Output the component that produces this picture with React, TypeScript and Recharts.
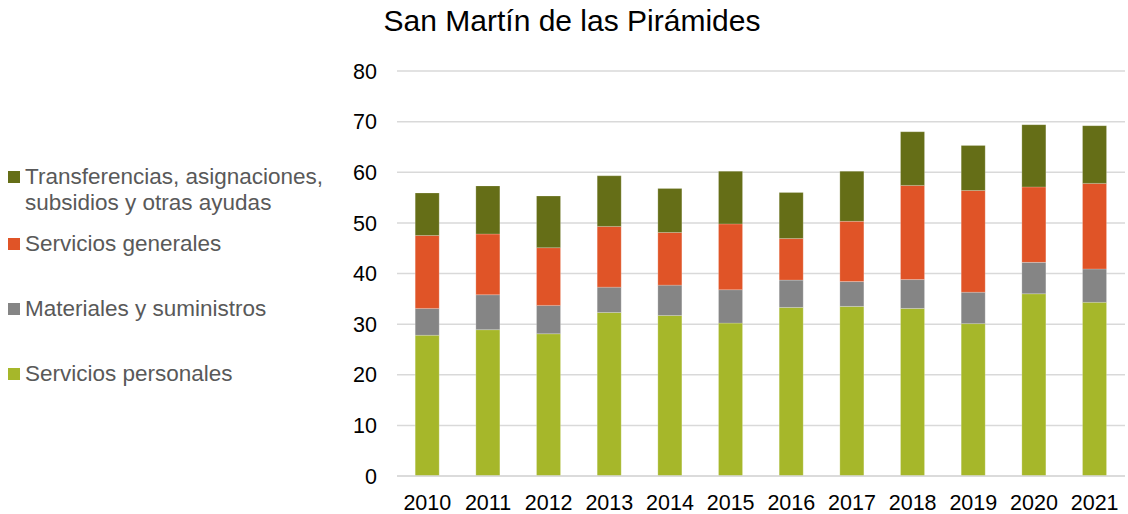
import { BarChart, Bar, XAxis, YAxis, CartesianGrid } from 'recharts';

const YEARS = ['2010', '2011', '2012', '2013', '2014', '2015', '2016', '2017', '2018', '2019', '2020', '2021'];
const PERSONALES = [27.8, 28.9, 28.1, 32.3, 31.7, 30.2, 33.3, 33.5, 33.1, 30.1, 36.0, 34.3];
const MATERIALES = [5.3, 6.9, 5.6, 5.0, 6.0, 6.6, 5.4, 4.9, 5.7, 6.2, 6.2, 6.6];
const GENERALES = [14.4, 12.0, 11.4, 12.0, 10.4, 13.0, 8.2, 11.9, 18.6, 20.1, 14.9, 16.9];
const TRANSFERENCIAS = [8.4, 9.5, 10.2, 10.0, 8.7, 10.4, 9.1, 9.9, 10.6, 8.9, 12.3, 11.4];
const Y_TICKS = [0, 10, 20, 30, 40, 50, 60, 70, 80];

const SERIES = [
  { key: 'personales', name: 'Servicios personales', color: '#A6B72A', values: PERSONALES },
  { key: 'materiales', name: 'Materiales y suministros', color: '#858585', values: MATERIALES },
  { key: 'generales', name: 'Servicios generales', color: '#E05427', values: GENERALES },
  { key: 'transferencias', name: 'Transferencias, asignaciones, subsidios y otras ayudas', color: '#656E17', values: TRANSFERENCIAS },
];

const data = YEARS.map((year, i) => {
  const row: Record<string, any> = { year };
  SERIES.forEach((s) => {
    row[s.key] = s.values[i];
  });
  return row;
});

// legend entries, top to bottom, with their vertical spot
const LEGEND_TOPS = [164, 231, 296, 361];
const legendItems = [...SERIES].reverse();

const FONT = '"Liberation Sans", Arial, sans-serif';

export default function App() {
  return (
    <div style={{ position: 'absolute', left: 0, top: 0, width: 1128, height: 514, background: '#fff', fontFamily: FONT }}>
      <div style={{ position: 'absolute', left: 0, width: 1144, top: 4, textAlign: 'center', fontSize: 30, color: '#000' }}>
        San Martín de las Pirámides
      </div>

      {legendItems.map((s, i) => (
        <div
          key={s.key}
          style={{ position: 'absolute', left: 8, top: LEGEND_TOPS[i], width: 332, display: 'flex', alignItems: 'flex-start', color: '#595959', fontSize: 22.5, lineHeight: '26px' }}
        >
          <span style={{ display: 'inline-block', width: 12, height: 12, background: s.color, marginTop: 7, marginRight: 5, flex: 'none' }} />
          <span>{s.name}</span>
        </div>
      ))}

      <BarChart
        width={1128}
        height={514}
        data={data}
        margin={{ top: 71, right: 3, left: 0, bottom: 8 }}
        barCategoryGap="30%"
      >
        <CartesianGrid vertical={false} stroke="#D9D9D9" strokeWidth={1.5} />
        <XAxis
          dataKey="year"
          height={30}
          axisLine={{ stroke: '#D9D9D9', strokeWidth: 1.5 }}
          tickLine={false}
          tickSize={0}
          tickMargin={19}
          tick={{ fontSize: 21.5, fill: '#000', fontFamily: FONT }}
          interval={0}
        />
        <YAxis
          width={397}
          domain={[0, 80]}
          ticks={Y_TICKS}
          axisLine={false}
          tickLine={false}
          tickSize={0}
          tickMargin={20}
          tick={{ fontSize: 21.5, fill: '#000', fontFamily: FONT }}
        />
        {SERIES.map((s) => (
          <Bar
            key={s.key}
            dataKey={s.key}
            name={s.name}
            stackId="a"
            fill={s.color}
            stroke="#ffffff"
            strokeOpacity={0.4}
            strokeWidth={0.5}
            isAnimationActive={false}
          />
        ))}
      </BarChart>
    </div>
  );
}
